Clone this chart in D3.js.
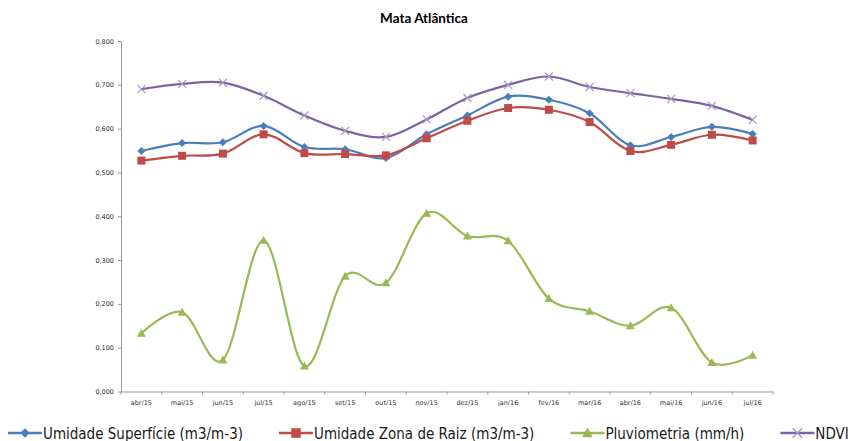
<!DOCTYPE html>
<html>
<head>
<meta charset="utf-8">
<script src="https://cdn.jsdelivr.net/npm/d3@7"></script>
<style>
  body { margin: 0; background: #fff; }
  svg { display: block; }
</style>
</head>
<body>
<svg id="chart" width="848" height="441"></svg>
<script>
var months = ["abr/15", "mai/15", "jun/15", "jul/15", "ago/15", "set/15", "out/15", "nov/15",
              "dez/15", "jan/16", "fev/16", "mar/16", "abr/16", "mai/16", "jun/16", "jul/16"];

var umidadeSuperficie = [0.549, 0.567, 0.569, 0.606, 0.558, 0.553, 0.533, 0.587,
                         0.630, 0.673, 0.666, 0.635, 0.562, 0.581, 0.604, 0.588];
var umidadeRaiz = [0.527, 0.538, 0.543, 0.587, 0.544, 0.542, 0.539, 0.578,
                   0.618, 0.647, 0.643, 0.615, 0.549, 0.563, 0.586, 0.573];
var pluviometria = [0.133, 0.181, 0.072, 0.345, 0.058, 0.263, 0.248, 0.407,
                    0.355, 0.344, 0.212, 0.183, 0.150, 0.191, 0.066, 0.083];
var ndvi = [0.690, 0.702, 0.705, 0.675, 0.630, 0.595, 0.581, 0.621,
            0.670, 0.700, 0.719, 0.695, 0.681, 0.668, 0.652, 0.620];

var yTicks = [0, 0.1, 0.2, 0.3, 0.4, 0.5, 0.6, 0.7, 0.8];

var series = [
    {name: "Umidade Superfície (m3/m-3)", values: umidadeSuperficie, color: "#4A7EBB", marker: "diamond"},
    {name: "Umidade Zona de Raiz (m3/m-3)", values: umidadeRaiz, color: "#BE4B48", marker: "square"},
    {name: "Pluviometria (mm/h)", values: pluviometria, color: "#98B954", marker: "triangle"},
    {name: "NDVI", values: ndvi, color: "#7D63A0", marker: "cross"}
];

var svg = d3.select("#chart");
var plotLeft = 121, plotRight = 773, plotTop = 41, plotBottom = 391.5;

var x = d3.scaleBand().domain(months).range([plotLeft, plotRight]);
var y = d3.scaleLinear().domain([0, 0.8]).range([plotBottom, plotTop]);
var fmt = v => d3.format(".3f")(v).replace(".", ",");

// title
svg.append("text")
    .attr("x", 424).attr("y", 23)
    .attr("text-anchor", "middle")
    .style("font-family", "Lato, 'Open Sans', sans-serif")
    .style("font-weight", "bold")
    .style("font-size", "13.5px")
    .attr("fill", "#000")
    .text("Mata Atlântica");

// axes
var yAxis = svg.append("g")
    .attr("transform", `translate(${plotLeft},0)`)
    .call(d3.axisLeft(y).tickValues(yTicks).tickSize(3).tickSizeOuter(0).tickFormat(fmt));
var xAxis = svg.append("g")
    .attr("transform", `translate(0,${plotBottom})`)
    .call(d3.axisBottom(x).tickSize(0).tickSizeOuter(0));

// x tick marks between categories
var bounds = months.map(m => x(m)).concat([plotRight]);
xAxis.selectAll(".sep").data(bounds).enter().append("line")
    .attr("class", "sep")
    .attr("x1", d => d).attr("x2", d => d)
    .attr("y1", 0).attr("y2", 3);

[yAxis, xAxis].forEach(function(ax) {
    ax.select(".domain").attr("stroke", "#999").attr("stroke-width", 1);
    ax.selectAll("line").attr("stroke", "#999");
    ax.selectAll("text")
        .style("font-family", "'DejaVu Sans', sans-serif")
        .style("font-size", "6.5px")
        .attr("fill", "#333");
});
yAxis.selectAll("text").attr("x", -7);
xAxis.selectAll("text").attr("y", 9);

var cx = m => x(m) + x.bandwidth() / 2;

function drawMarker(g, type, color) {
    if (type == "diamond") {
        g.append("path").attr("d", "M0,-4L4,0L0,4L-4,0Z").attr("fill", color);
    } else if (type == "square") {
        g.append("rect").attr("x", -4).attr("y", -4).attr("width", 8).attr("height", 8).attr("fill", color);
    } else if (type == "triangle") {
        g.append("path").attr("d", "M0,-4.5L4.5,3.5L-4.5,3.5Z").attr("fill", color);
    } else {
        g.append("path").attr("d", "M-4,-4L4,4M-4,4L4,-4").attr("stroke", "#A996C8").attr("stroke-width", 1.2).attr("fill", "none");
    }
}

var line = d3.line()
    .x((d, i) => cx(months[i]))
    .y(d => y(d))
    .curve(d3.curveCardinal.tension(0));

series.forEach(function(s) {
    svg.append("path")
        .datum(s.values)
        .attr("d", line)
        .attr("fill", "none")
        .attr("stroke", s.color)
        .attr("stroke-width", 2.2);
    s.values.forEach(function(v, i) {
        var g = svg.append("g").attr("transform", `translate(${cx(months[i])},${y(v)})`);
        drawMarker(g, s.marker, s.color);
    });
});

// legend
var lx = 8, ly = 433;
series.forEach(function(s) {
    var g = svg.append("g").attr("transform", `translate(${lx},${ly})`);
    g.append("line").attr("x1", 0).attr("x2", 34).attr("y1", 0).attr("y2", 0)
        .attr("stroke", s.color).attr("stroke-width", 2.5);
    var m = g.append("g").attr("transform", "translate(17,0) scale(1.2)");
    drawMarker(m, s.marker, s.color);
    var t = g.append("text")
        .attr("x", 35).attr("y", 5.5)
        .style("font-family", "'Liberation Sans Narrow', 'DejaVu Sans Condensed', sans-serif")
        .style("font-size", "15px")
        .attr("fill", "#1a1a1a")
        .text(s.name);
    lx += 35 + t.node().getComputedTextLength() + 36;
});
</script>
</body>
</html>
